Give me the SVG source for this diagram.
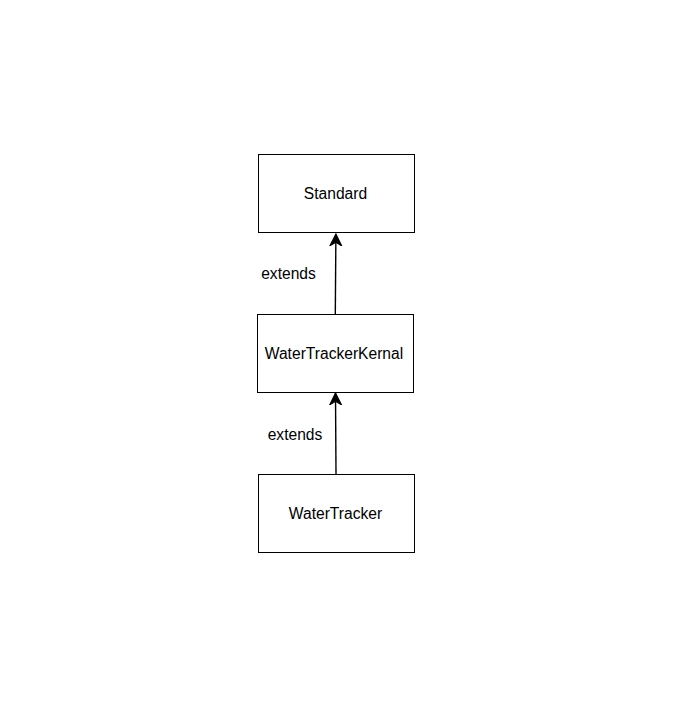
<svg xmlns="http://www.w3.org/2000/svg" width="676" height="714" viewBox="0 0 676 714">
  <style>
    .box { fill: #ffffff; stroke: #000000; stroke-width: 1; }
    .label { font-family: "Liberation Sans", Arial, sans-serif; font-size: 15.6px; fill: #000000; }
    .edge { fill: none; stroke: #000000; stroke-width: 1.4; }
  </style>
  <defs>
    <marker id="arrow" markerWidth="14" markerHeight="14" refX="11" refY="5.5" orient="auto" markerUnits="userSpaceOnUse" viewBox="0 0 13 11">
      <path d="M0,0 L11,5.5 L0,11 L3.3,5.5 Z" fill="#000000" stroke="#000000" stroke-width="1"/>
    </marker>
  </defs>
  <rect width="676" height="714" fill="#ffffff"/>

  <g id="connectors">
    <line class="edge" x1="335.3" y1="314" x2="335.9" y2="234" marker-end="url(#arrow)"/>
    <line class="edge" x1="336" y1="474" x2="335.5" y2="393" marker-end="url(#arrow)"/>
    <text class="label" x="288.5" y="279" text-anchor="middle">extends</text>
    <text class="label" x="295" y="440" text-anchor="middle">extends</text>
  </g>

  <g id="standard">
    <rect class="box" x="258.5" y="154.5" width="156" height="78"/>
    <text class="label" x="335.5" y="199" text-anchor="middle">Standard</text>
  </g>

  <g id="water-tracker-kernal">
    <rect class="box" x="257.5" y="314.5" width="156" height="78"/>
    <text class="label" x="334" y="359" text-anchor="middle">WaterTrackerKernal</text>
  </g>

  <g id="water-tracker">
    <rect class="box" x="258.5" y="474.5" width="156" height="78"/>
    <text class="label" x="335.5" y="519" text-anchor="middle">WaterTracker</text>
  </g>
</svg>
